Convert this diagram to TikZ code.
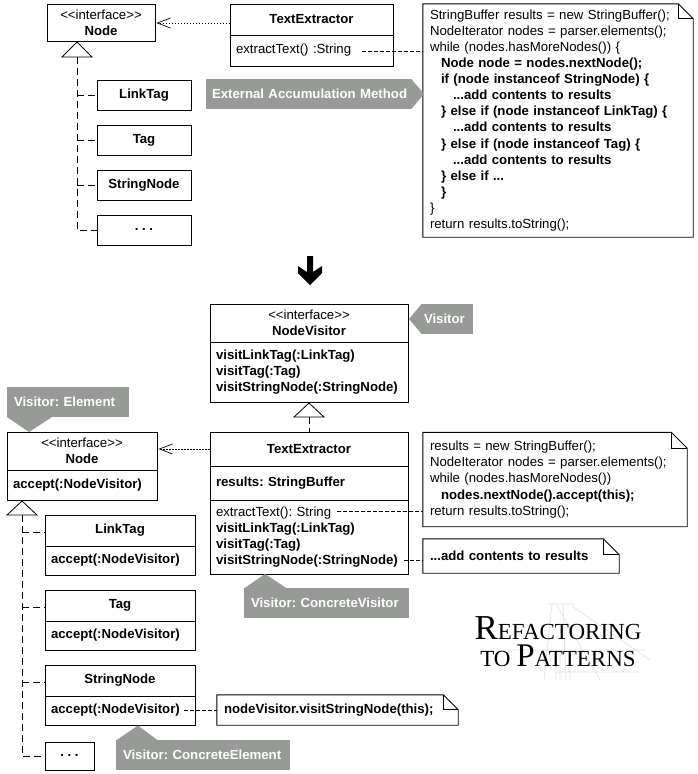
\documentclass[tikz,border=0pt]{standalone}
\usepackage{fontspec}
\setmainfont{Liberation Sans}
\newfontfamily\logofont{Liberation Serif}
\usetikzlibrary{arrows.meta,calc}
\definecolor{taggray}{RGB}{152,154,152}
\definecolor{logogray}{RGB}{225,225,225}
\newcommand{\umlfont}{\frenchspacing\fontsize{13.2}{16.1}\selectfont}
\newcommand{\foldnote}[2]{%
  \draw[thinline] (#1.north west) -- ($(#1.north east)+(-#2,0)$) -- ($(#1.north east)+(0,#2)$)
    -- (#1.south east) -- (#1.south west) -- cycle;
  \draw[thinline] ($(#1.north east)+(-#2,0)$) |- ($(#1.north east)+(0,#2)$);}

\begin{document}
\begin{tikzpicture}[
    x=1pt,y=-1pt,
    thinline/.style={line width=0.9pt},
    box/.style={draw,line width=0.9pt,inner sep=0pt,align=center,font=\umlfont\bfseries},
    members/.style={draw,line width=0.9pt,inner xsep=6pt,inner ysep=0pt,text width=#1,align=left,font=\umlfont\bfseries},
    notebox/.style={inner xsep=7pt,inner ysep=0pt,text width=#1,align=left,font=\umlfont},
    tagbox/.style={fill=taggray,text=white,inner xsep=7pt,inner ysep=0pt,minimum height=30pt,text width=#1,align=left,font=\umlfont\bfseries},
    realize/.style={line width=0.8pt,dash pattern=on 7pt off 4pt},
    depend/.style={line width=0.8pt,dash pattern=on 1.5pt off 1.5pt,-{Straight Barb[length=13pt,width=10pt,line width=0.7pt]},shorten >=1pt},
    noteline/.style={line width=0.8pt,dash pattern=on 4pt off 2pt},
    openhead/.style={line width=0.8pt,fill=white}
]
\useasboundingbox (0,0) rectangle (697,774);

% before
\node[box,minimum width=108,minimum height=37] (node1) at (101,22.5) {{\mdseries<{}<interface>{}>}\\Node};
\node[box,minimum width=163,minimum height=31] (xtr1) at (311.5,19.5) {TextExtractor};
\node[members=151,minimum height=31,font=\umlfont] (xtrm1) at (311.5,50.5) {extractText() :String};
\node[box,minimum width=94,minimum height=30] (link1) at (144,95) {LinkTag};
\node[box,minimum width=94,minimum height=30] (tag1) at (144,140) {Tag};
\node[box,minimum width=94,minimum height=30] (str1) at (144,185) {StringNode};
\node[box,minimum width=94,minimum height=30] (dots1) at (144,230) {. . .};
\node[notebox=256,minimum height=233] (note1) at (558,120.5) {%
  StringBuffer results = new StringBuffer();\\
  NodeIterator nodes = parser.elements();\\
  while (nodes.hasMoreNodes()) \{\\
  \hspace*{11pt}\textbf{Node node = nodes.nextNode();}\\
  \hspace*{11pt}\textbf{if (node instanceof StringNode) \{}\\
  \hspace*{23pt}\textbf{...add contents to results}\\
  \hspace*{11pt}\textbf{\} else if (node instanceof LinkTag) \{}\\
  \hspace*{23pt}\textbf{...add contents to results}\\
  \hspace*{11pt}\textbf{\} else if (node instanceof Tag) \{}\\
  \hspace*{23pt}\textbf{...add contents to results}\\
  \hspace*{11pt}\textbf{\} else if ...}\\
  \hspace*{11pt}\textbf{\}}\\
  \}\\
  return results.toString();};
\foldnote{note1}{15}
\node[tagbox=199,inner xsep=3pt] (tagext) at (308.5,94) {\hspace*{3pt}External Accumulation Method};
\fill[taggray] (tagext.north east) -- (424,94) -- (tagext.south east) -- cycle;

\coordinate (dep1) at (230,23);
\coordinate (apex1) at (77,42);
\coordinate (trunk1) at (77,57);
\coordinate (xt1) at (362,51);
\draw[openhead] (apex1) -- (62,57) -- (92,57) -- cycle;
\draw[realize] (trunk1) |- (dots1.west);
\draw[realize] (trunk1 |- link1.west) -- (link1.west);
\draw[realize] (trunk1 |- tag1.west) -- (tag1.west);
\draw[realize] (trunk1 |- str1.west) -- (str1.west);
\draw[depend] (dep1) -- (dep1 -| node1.east);
\draw[noteline] (xt1) -- (xt1 -| note1.west);

% big arrow
\fill[black] (307,256) -- (313,256) -- (313,272) -- (322,266) -- (322,273) -- (310,285) -- (298,273) -- (298,266) -- (307,272) -- cycle;

% after
\node[box,minimum width=198,minimum height=38] (vis) at (309,323) {{\mdseries<{}<interface>{}>}\\NodeVisitor};
\node[members=186,minimum height=60] (vism) at (309,372) {visitLinkTag(:LinkTag)\\visitTag(:Tag)\\visitStringNode(:StringNode)};
\node[tagbox=47,inner xsep=2pt] (tagvis) at (447.5,319) {Visitor};
\fill[taggray] (tagvis.north west) -- (409,319) -- (tagvis.south west) -- cycle;

\node[box,minimum width=150,minimum height=38] (node2) at (82,451) {{\mdseries<{}<interface>{}>}\\Node};
\node[members=138,minimum height=30] (nodem2) at (82,485) {accept(:NodeVisitor)};
\node[tagbox=108] (tagelem) at (68,402) {Visitor: Element};
\fill[taggray] (7,417) -- (29,432) -- (52,417) -- cycle;

\node[box,minimum width=198,minimum height=34] (xtr2) at (309,449) {TextExtractor};
\node[members=186,minimum height=34] (xtrf2) at (309,483) {results: StringBuffer};
\node[members=186,minimum height=74,font=\umlfont] (xtrm2) at (309,537) {extractText(): String\\\textbf{visitLinkTag(:LinkTag)}\\\textbf{visitTag(:Tag)}\\\textbf{visitStringNode(:StringNode)}};
\node[tagbox=151] (tagcv) at (326.5,603) {Visitor: ConcreteVisitor};
\fill[taggray] (244,588.5) -- (265,574) -- (287,588.5) -- cycle;

\node[notebox=250,minimum height=94] (note2) at (555,479.5) {%
  results = new StringBuffer();\\
  NodeIterator nodes = parser.elements();\\
  while (nodes.hasMoreNodes())\\
  \hspace*{11pt}\textbf{nodes.nextNode().accept(this);}\\
  return results.toString();};
\foldnote{note2}{16}
\node[notebox=182,minimum height=34,font=\umlfont\bfseries] (note3) at (521,556) {...add contents to results};
\foldnote{note3}{16}

\node[box,minimum width=150,minimum height=31] (link2) at (120,530.5) {LinkTag};
\node[members=138,minimum height=29] (linkm2) at (120,560.5) {accept(:NodeVisitor)};
\node[box,minimum width=150,minimum height=31] (tag2) at (120,605.5) {Tag};
\node[members=138,minimum height=29] (tagm2) at (120,635.5) {accept(:NodeVisitor)};
\node[box,minimum width=150,minimum height=31] (str2) at (120,680.5) {StringNode};
\node[members=138,minimum height=29] (strm2) at (120,710.5) {accept(:NodeVisitor)};
\node[box,minimum width=49,minimum height=28] (dots2) at (69.5,756) {. . .};
\node[notebox=227,minimum height=30,font=\umlfont\bfseries] (note4) at (337.5,710) {nodeVisitor.visitStringNode(this);};
\foldnote{note4}{15}
\node[tagbox=160] (tagce) at (203,755) {Visitor: ConcreteElement};
\fill[taggray] (116,740.5) -- (138,725.5) -- (158,740.5) -- cycle;

\coordinate (apex2) at (309,403);
\coordinate (trunk2) at (309,417);
\coordinate (apex3) at (22,501);
\coordinate (trunk3) at (22,515);
\coordinate (xt2) at (337,511);
\coordinate (vs2) at (404,560);
\coordinate (acc2) at (184,710);
\draw[openhead] (apex2) -- (294,417) -- (324,417) -- cycle;
\draw[realize] (trunk2) -- (trunk2 |- xtr2.north);
\draw[openhead] (apex3) -- (7,515) -- (37,515) -- cycle;
\draw[realize] (trunk3) |- (dots2.west);
\draw[realize] (trunk3 |- link2.west) ++(0,2) -- (link2.west |- 0,532.5);
\draw[realize] (trunk3 |- tag2.west) ++(0,2) -- (tag2.west |- 0,607.5);
\draw[realize] (trunk3 |- str2.west) ++(0,2) -- (str2.west |- 0,682.5);
\draw[depend] (xtr2.west) -- (xtr2.west -| node2.east);
\draw[noteline] (xt2) -- (xt2 -| note2.west);
\draw[noteline] (vs2) -- (vs2 -| note3.west);
\draw[noteline] (acc2) -- (acc2 -| note4.west);

% logo
\draw[logogray,line width=0.7pt] (552,604) -- (544,680) (563,604) -- (566,680) (572,606) -- (650,660)
  (557,606) -- (600,680) (480,650) -- (645,650) (555,672) -- (640,672) (548,604) -- (575,604)
  (556,650) -- (556,680) (560,650) -- (560,680) (570,650) -- (570,680);
\node[font=\logofont\fontsize{23}{27}\selectfont,inner sep=0pt,align=center] (logo) at (558,642) {{\fontsize{35}{27}\selectfont R}EFACTORING\\TO {\fontsize{33}{27}\selectfont P}ATTERNS};
\end{tikzpicture}
\end{document}
